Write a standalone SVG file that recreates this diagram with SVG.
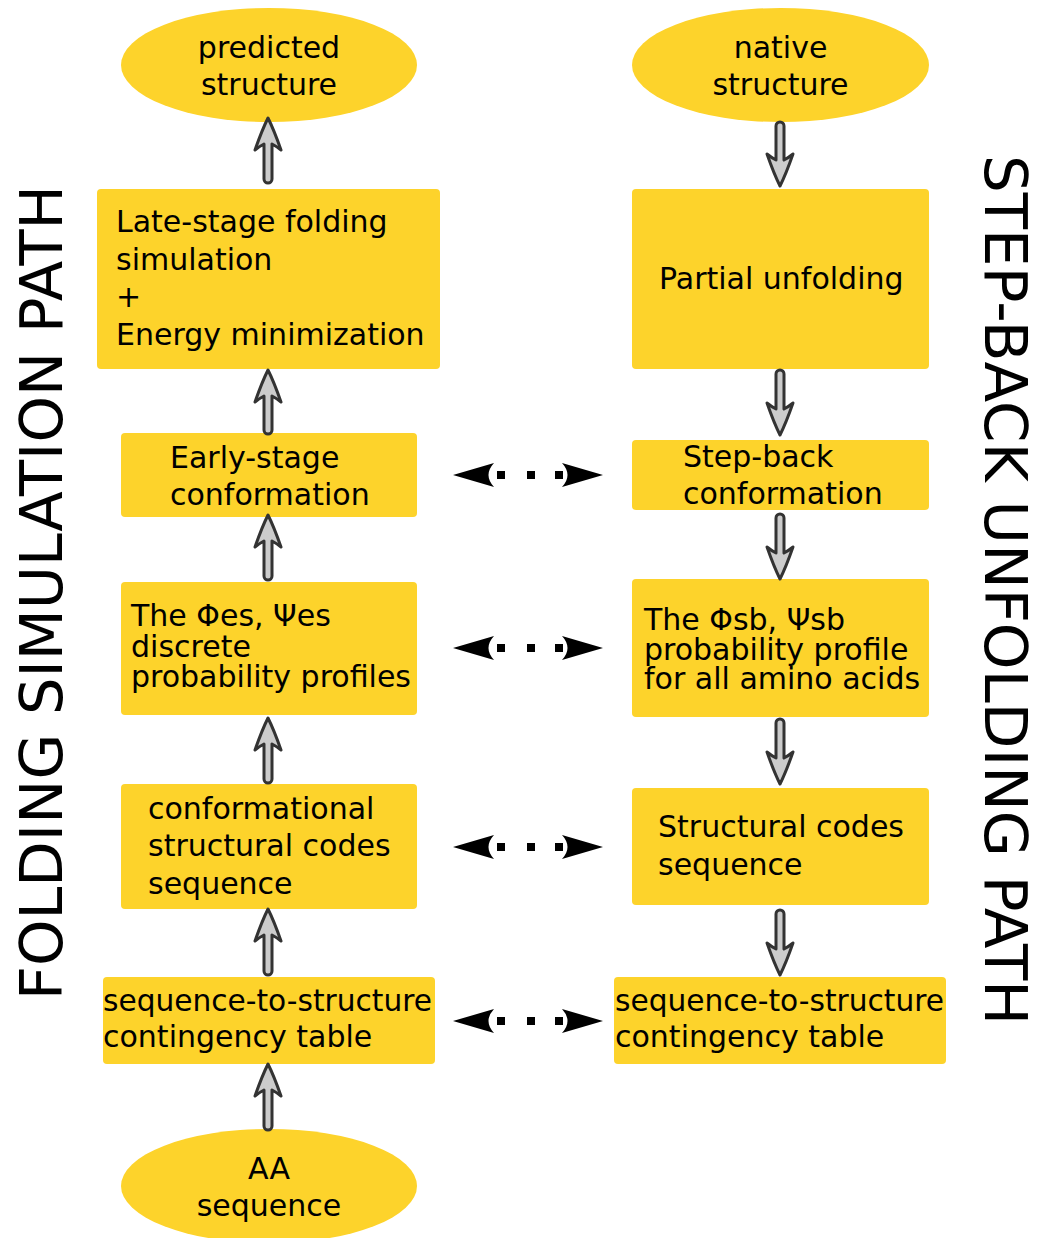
<svg xmlns="http://www.w3.org/2000/svg" xmlns:xlink="http://www.w3.org/1999/xlink" width="1042" height="1238" viewBox="0 0 1042 1238">
  <style>
    .node { fill: #fdd32b; }
    .lbl { font-family: "DejaVu Sans", "Liberation Sans", sans-serif; font-size: 30px; fill: #000; }
    .mid { text-anchor: middle; }
    .side { font-family: "DejaVu Sans", "Liberation Sans", sans-serif; font-size: 58px; fill: #000; }
    .flow { fill: #cccccc; stroke: #333333; stroke-width: 3; stroke-linejoin: round; }
  </style>
  <defs>
    <!-- dotted two-headed link between corresponding stages -->
    <g id="link">
      <path d="M453,0 L494,-12 Q483,0 494,12 Z" fill="#000"/>
      <rect x="497" y="-4" width="8" height="8" fill="#000"/>
      <rect x="527" y="-4" width="8" height="8" fill="#000"/>
      <rect x="555" y="-4" width="8" height="8" fill="#000"/>
      <path d="M603,0 L562,-12 Q573,0 562,12 Z" fill="#000"/>
    </g>
  </defs>

  <rect width="1042" height="1238" fill="#fff"/>

  <!-- side titles -->
  <text class="side" transform="translate(62,1000) rotate(-90)" textLength="815" lengthAdjust="spacingAndGlyphs">FOLDING SIMULATION PATH</text>
  <text class="side" transform="translate(985,155) rotate(90)" textLength="870" lengthAdjust="spacingAndGlyphs">STEP-BACK UNFOLDING PATH</text>

  <!-- left column: folding -->
  <g id="predicted">
    <ellipse class="node" cx="269" cy="65" rx="148" ry="57"/>
    <text class="lbl mid" x="269" y="57.5">predicted</text>
    <text class="lbl mid" x="269" y="95">structure</text>
  </g>
  <g id="late-stage">
    <rect class="node" x="97" y="189" width="343" height="180" rx="4"/>
    <text class="lbl" x="116" y="232">Late-stage folding</text>
    <text class="lbl" x="116" y="269.5">simulation</text>
    <text class="lbl" x="116" y="307">+</text>
    <text class="lbl" x="116" y="344.5">Energy minimization</text>
  </g>
  <g id="early-stage">
    <rect class="node" x="121" y="433" width="296" height="84" rx="4"/>
    <text class="lbl" x="170" y="468">Early-stage</text>
    <text class="lbl" x="170" y="505">conformation</text>
  </g>
  <g id="es-profiles">
    <rect class="node" x="121" y="582" width="296" height="133" rx="4"/>
    <text class="lbl" x="131" y="626">The Φes, Ψes</text>
    <text class="lbl" x="131" y="656.5">discrete</text>
    <text class="lbl" x="131" y="687">probability profiles</text>
  </g>
  <g id="codes-left">
    <rect class="node" x="121" y="784" width="296" height="125" rx="4"/>
    <text class="lbl" x="148" y="818.5">conformational</text>
    <text class="lbl" x="148" y="856">structural codes</text>
    <text class="lbl" x="148" y="893.5">sequence</text>
  </g>
  <g id="table-left">
    <rect class="node" x="103" y="977" width="332" height="87" rx="4"/>
    <text class="lbl" x="103" y="1011" textLength="329" lengthAdjust="spacingAndGlyphs">sequence-to-structure</text>
    <text class="lbl" x="103" y="1047">contingency table</text>
  </g>
  <g id="aa-sequence">
    <ellipse class="node" cx="269" cy="1186" rx="148" ry="57"/>
    <text class="lbl mid" x="269" y="1179">AA</text>
    <text class="lbl mid" x="269" y="1216">sequence</text>
  </g>

  <!-- right column: unfolding -->
  <g id="native">
    <ellipse class="node" cx="780.5" cy="65" rx="148.5" ry="57"/>
    <text class="lbl mid" x="780.5" y="57.5">native</text>
    <text class="lbl mid" x="780.5" y="95">structure</text>
  </g>
  <g id="partial-unfolding">
    <rect class="node" x="632" y="189" width="297" height="180" rx="4"/>
    <text class="lbl" x="659" y="289">Partial unfolding</text>
  </g>
  <g id="step-back">
    <rect class="node" x="632" y="440" width="297" height="70" rx="4"/>
    <text class="lbl" x="683" y="467">Step-back</text>
    <text class="lbl" x="683" y="504">conformation</text>
  </g>
  <g id="sb-profile">
    <rect class="node" x="632" y="579" width="297" height="138" rx="4"/>
    <text class="lbl" x="644" y="630">The Φsb, Ψsb</text>
    <text class="lbl" x="644" y="660">probability profile</text>
    <text class="lbl" x="644" y="689">for all amino acids</text>
  </g>
  <g id="codes-right">
    <rect class="node" x="632" y="788" width="297" height="117" rx="4"/>
    <text class="lbl" x="658" y="837">Structural codes</text>
    <text class="lbl" x="658" y="874.5">sequence</text>
  </g>
  <g id="table-right">
    <rect class="node" x="614" y="977" width="332" height="87" rx="4"/>
    <text class="lbl" x="615" y="1011" textLength="329" lengthAdjust="spacingAndGlyphs">sequence-to-structure</text>
    <text class="lbl" x="615" y="1047">contingency table</text>
  </g>

  <!-- connectors -->
  <g id="connectors">
    <!-- upward flow, folding side -->
    <path class="flow" d="M268,118 Q274,130 281,150 Q276,146 272,144 L272,179 A4,4 0 0 1 264,179 L264,144 Q260,146 255,150 Q262,130 268,118 Z"/>
    <path class="flow" d="M268,370 Q274,382 281,402 Q276,398 272,396 L272,430 A4,4 0 0 1 264,430 L264,396 Q260,398 255,402 Q262,382 268,370 Z"/>
    <path class="flow" d="M268,515 Q274,527 281,547 Q276,543 272,541 L272,576 A4,4 0 0 1 264,576 L264,541 Q260,543 255,547 Q262,527 268,515 Z"/>
    <path class="flow" d="M268,718 Q274,730 281,750 Q276,746 272,744 L272,779 A4,4 0 0 1 264,779 L264,744 Q260,746 255,750 Q262,730 268,718 Z"/>
    <path class="flow" d="M268,909 Q274,921 281,941 Q276,937 272,935 L272,971 A4,4 0 0 1 264,971 L264,935 Q260,937 255,941 Q262,921 268,909 Z"/>
    <path class="flow" d="M268,1064 Q274,1076 281,1096 Q276,1092 272,1090 L272,1126 A4,4 0 0 1 264,1126 L264,1090 Q260,1092 255,1096 Q262,1076 268,1064 Z"/>

    <!-- downward flow, unfolding side -->
    <path class="flow" d="M780,186 Q786,174 793,154 Q788,158 784,160 L784,126 A4,4 0 0 0 776,126 L776,160 Q772,158 767,154 Q774,174 780,186 Z"/>
    <path class="flow" d="M780,435 Q786,423 793,403 Q788,407 784,409 L784,374 A4,4 0 0 0 776,374 L776,409 Q772,407 767,403 Q774,423 780,435 Z"/>
    <path class="flow" d="M780,579 Q786,567 793,547 Q788,551 784,553 L784,518 A4,4 0 0 0 776,518 L776,553 Q772,551 767,547 Q774,567 780,579 Z"/>
    <path class="flow" d="M780,784 Q786,772 793,752 Q788,756 784,758 L784,723 A4,4 0 0 0 776,723 L776,758 Q772,756 767,752 Q774,772 780,784 Z"/>
    <path class="flow" d="M780,975 Q786,963 793,943 Q788,947 784,949 L784,914 A4,4 0 0 0 776,914 L776,949 Q772,947 767,943 Q774,963 780,975 Z"/>

    <!-- correspondences between the two paths -->
    <use xlink:href="#link" transform="translate(0,475)"/>
    <use xlink:href="#link" transform="translate(0,648)"/>
    <use xlink:href="#link" transform="translate(0,847)"/>
    <use xlink:href="#link" transform="translate(0,1021)"/>
  </g>
</svg>
